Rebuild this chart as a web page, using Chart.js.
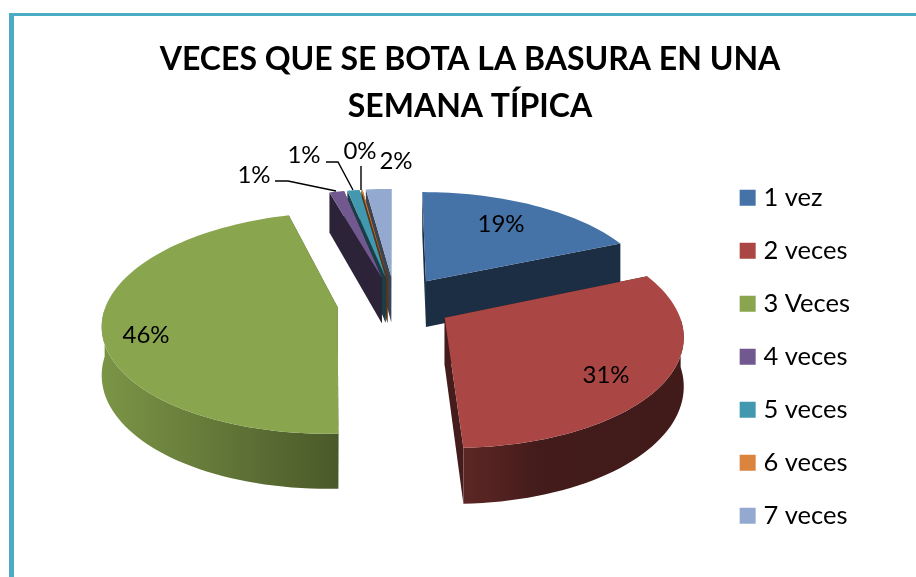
<!DOCTYPE html>
<html>
<head>
<meta charset="utf-8">
<script src="https://cdn.jsdelivr.net/npm/chart.js@4"></script>
<style>
html,body{margin:0;padding:0;background:#fff;width:916px;height:577px;overflow:hidden}
#frame{position:absolute;left:9px;top:13px;right:0;bottom:0;border-left:5px solid #4bacc6;border-top:3px solid #4bacc6}
#wrap{position:absolute;left:0;top:0;width:916px;height:577px}
</style>
</head>
<body>
<div id="frame"></div>
<div id="wrap"><canvas id="c" width="916" height="577"></canvas></div>
<script>
const categories = ['1 vez','2 veces','3 Veces','4 veces','5 veces','6 veces','7 veces'];
const shares = [18.6,30.8,46.2,1.2,1.0,0.1,2.1];
const colours = ['#4572A7','#AA4643','#89A54E','#71588F','#4198AF','#DB843D','#93A9CF'];
const titleLines = ['VECES QUE SE BOTA LA BASURA EN UNA','SEMANA TÍPICA'];

// centres of the percentage labels
const labelAt = [[501,224],[606,375],[146,335],[254,175],[304,155],[360,151],[396,161]];
// leader lines of the small slices
const leaders = {3:[[275,181],[288,181],[336,191]],4:[[326,162],[338,162],[353,190]],5:[[361,166],[361,190]]};

// 3-D view of the pie plane
const view = {cx:395, cy:303, unit:240, ax:231, ay:107.4, persp:0.141, depth:47};
const paintOrder = [6,5,4,3,0,2,1];

function project(u,v){
  const f = 1/(1+view.persp*v);
  return {x:view.cx+u*view.ax*f, y:view.cy-v*view.ay*f, drop:view.depth*f};
}
function shade(hex,k){
  const n=parseInt(hex.slice(1),16);
  return 'rgb('+[(n>>16)&255,(n>>8)&255,n&255].map(c=>Math.round(c*k)).join(',')+')';
}
function drawSlice(ctx,arc,colour){
  const a0=arc.startAngle,a1=arc.endAngle,mid=(a0+a1)/2;
  const e=arc.options.offset/view.unit;
  const ou=Math.cos(mid)*e, ov=-Math.sin(mid)*e;
  const apex=project(ou,ov);
  const rim=[],front=[];
  const n=Math.max(2,Math.ceil((a1-a0)/(Math.PI/90)));
  for(let i=0;i<=n;i++){
    const a=a0+(a1-a0)*i/n;
    const p=project(ou+Math.cos(a),ov-Math.sin(a));
    rim.push(p);
    if(Math.sin(a)>=0)front.push(p);
  }
  const wall=(p,q)=>{
    ctx.beginPath();
    ctx.moveTo(p.x,p.y);ctx.lineTo(q.x,q.y);ctx.lineTo(q.x,q.y+q.drop);ctx.lineTo(p.x,p.y+p.drop);
    ctx.closePath();
    ctx.fillStyle=shade(colour,0.4);ctx.fill();
  };
  wall(apex,rim[0]);
  wall(apex,rim[rim.length-1]);
  // outer rim: only the part that faces the viewer
  if(front.length>1){
    const xs=front.map(p=>p.x),minX=Math.min(...xs),maxX=Math.max(...xs);
    const g=ctx.createLinearGradient(minX,0,Math.max(maxX,minX+1),0);
    if(colour===colours[1]){
      g.addColorStop(0,shade(colour,0.54));g.addColorStop(0.12,shade(colour,0.5));
      g.addColorStop(0.35,shade(colour,0.39));g.addColorStop(1,shade(colour,0.38));
    }else{
      g.addColorStop(0,shade(colour,0.9));g.addColorStop(0.5,shade(colour,0.72));
      g.addColorStop(1,shade(colour,0.54));
    }
    ctx.beginPath();
    front.forEach((p,i)=>i?ctx.lineTo(p.x,p.y):ctx.moveTo(p.x,p.y));
    for(let i=front.length-1;i>=0;i--)ctx.lineTo(front[i].x,front[i].y+front[i].drop);
    ctx.closePath();
    ctx.fillStyle=g;ctx.fill();
  }
  // top face
  ctx.beginPath();
  ctx.moveTo(apex.x,apex.y);
  rim.forEach(p=>ctx.lineTo(p.x,p.y));
  ctx.closePath();
  ctx.fillStyle=colour;ctx.fill();
}

const pie3d = {
  id:'pie3d',
  beforeDatasetsDraw(chart){
    const ctx=chart.ctx,arcs=chart.getDatasetMeta(0).data;
    ctx.save();
    paintOrder.forEach(i=>drawSlice(ctx,arcs[i],colours[i]));
    ctx.restore();
    return false;
  },
  afterDraw(chart){
    const ctx=chart.ctx,total=shares.reduce((a,b)=>a+b,0);
    ctx.save();
    ctx.strokeStyle='#000';ctx.lineWidth=1.4;
    Object.values(leaders).forEach(pts=>{
      ctx.beginPath();
      pts.forEach((p,i)=>i?ctx.lineTo(p[0],p[1]):ctx.moveTo(p[0],p[1]));
      ctx.stroke();
    });
    ctx.fillStyle='#000';ctx.font='24px Lato';ctx.textAlign='center';ctx.textBaseline='middle';
    shares.forEach((s,i)=>ctx.fillText(Math.round(s/total*100)+'%',labelAt[i][0],labelAt[i][1]));
    ctx.restore();
  }
};

new Chart(document.getElementById('c'),{
  type:'pie',
  data:{labels:categories,datasets:[{data:shares,backgroundColor:colours,borderWidth:0,offset:60}]},
  plugins:[pie3d],
  options:{
    responsive:false,
    animation:false,
    layout:{padding:{left:80,right:56,top:36,bottom:21}},
    plugins:{
      tooltip:{enabled:false},
      title:{display:true,text:titleLines,color:'#000',font:{family:'Lato',size:32,weight:'bold',lineHeight:1.47},padding:{top:0,bottom:0}},
      legend:{position:'right',align:'end',
        labels:{color:'#000',font:{family:'Lato',size:25.5},padding:27.5,boxWidth:6,boxHeight:16,usePointStyle:true,pointStyle:'rect'}}
    }
  }
});
</script>
</body>
</html>
